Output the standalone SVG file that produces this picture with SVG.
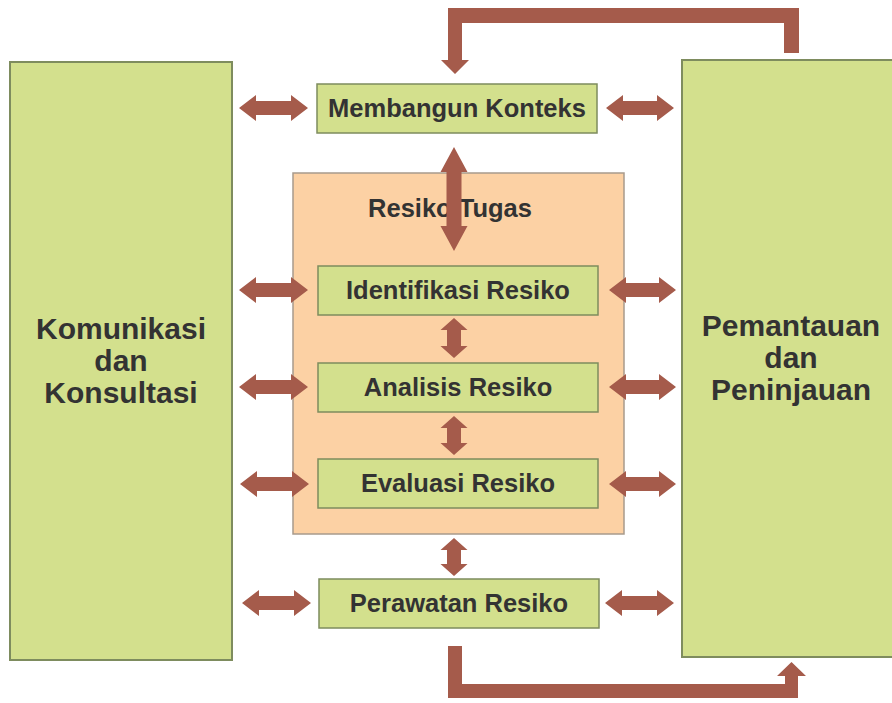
<svg xmlns="http://www.w3.org/2000/svg" width="892" height="703" viewBox="0 0 892 703">
<style>
.big{fill:#d3e08d;stroke:#7e8c5e;stroke-width:2}
.box{fill:#d3e08d;stroke:#7e8c5e;stroke-width:1.5}
.task{fill:#fcd1a4;stroke:#a89a8c;stroke-width:1.5}
.arr{fill:#a55b4b;stroke:none}
text{font-family:"Liberation Sans",Arial,sans-serif;font-weight:bold;fill:#333333;text-anchor:middle}
.t1{font-size:30px}
.t2{font-size:25.5px}
</style>
<rect width="892" height="703" fill="#ffffff"/>
<g id="komunikasi">
<rect class="big" x="10" y="62" width="222" height="598"/>
<text class="t1" x="121" y="339">Komunikasi</text>
<text class="t1" x="121" y="371">dan</text>
<text class="t1" x="121" y="403">Konsultasi</text>
</g>
<g id="pemantauan">
<rect class="big" x="682" y="60" width="220" height="597"/>
<text class="t1" x="791" y="336">Pemantauan</text>
<text class="t1" x="791" y="368">dan</text>
<text class="t1" x="791" y="400">Peninjauan</text>
</g>
<g id="resiko-tugas">
<rect class="task" x="293" y="173" width="331" height="361"/>
<text class="t2" x="450" y="217">Resiko Tugas</text>
</g>
<g id="membangun">
<rect class="box" x="317" y="84" width="280" height="49"/>
<text class="t2" x="457" y="117">Membangun Konteks</text>
</g>
<g id="identifikasi">
<rect class="box" x="318" y="266" width="280" height="49"/>
<text class="t2" x="458" y="299">Identifikasi Resiko</text>
</g>
<g id="analisis">
<rect class="box" x="318" y="363" width="280" height="49"/>
<text class="t2" x="458" y="396">Analisis Resiko</text>
</g>
<g id="evaluasi">
<rect class="box" x="318" y="459" width="280" height="49"/>
<text class="t2" x="458" y="492">Evaluasi Resiko</text>
</g>
<g id="perawatan">
<rect class="box" x="319" y="579" width="280" height="49"/>
<text class="t2" x="459" y="612">Perawatan Resiko</text>
</g>
<g id="connectors">
<path class="arr" d="M239,108 l17,-13 v6 h35 v-6 l17,13 l-17,13 v-6 h-35 v6 z"/>
<path class="arr" d="M239,290 l17,-13 v6 h35 v-6 l17,13 l-17,13 v-6 h-35 v6 z"/>
<path class="arr" d="M239,387 l17,-13 v6 h35 v-6 l17,13 l-17,13 v-6 h-35 v6 z"/>
<path class="arr" d="M240,484 l17,-13 v6 h35 v-6 l17,13 l-17,13 v-6 h-35 v6 z"/>
<path class="arr" d="M242,603 l17,-13 v6 h35 v-6 l17,13 l-17,13 v-6 h-35 v6 z"/>
<path class="arr" d="M606,108 l17,-13 v6 h34 v-6 l17,13 l-17,13 v-6 h-34 v6 z"/>
<path class="arr" d="M609,290 l17,-13 v6 h33 v-6 l17,13 l-17,13 v-6 h-33 v6 z"/>
<path class="arr" d="M609,387 l17,-13 v6 h33 v-6 l17,13 l-17,13 v-6 h-33 v6 z"/>
<path class="arr" d="M609,484 l17,-13 v6 h33 v-6 l17,13 l-17,13 v-6 h-33 v6 z"/>
<path class="arr" d="M605,603 l17,-13 v6 h35 v-6 l17,13 l-17,13 v-6 h-35 v6 z"/>
<path class="arr" d="M454,147 l13.5,25 h-6 v54 h6 l-13.5,25 l-13.5,-25 h6 v-54 h-6 z"/>
<path class="arr" d="M454,318 l13.5,12 h-6.5 v16 h6.5 l-13.5,12 l-13.5,-12 h6.5 v-16 h-6.5 z"/>
<path class="arr" d="M454,416 l13.5,12 h-6.5 v15 h6.5 l-13.5,12 l-13.5,-12 h6.5 v-15 h-6.5 z"/>
<path class="arr" d="M454,538 l13.5,12 h-6.5 v14 h6.5 l-13.5,12 l-13.5,-12 h6.5 v-14 h-6.5 z"/>
<path class="arr" d="M799,53 h-15 v-30 h-322 v37 h7 l-14,14 l-14,-14 h7 v-52 h351 z"/>
<path class="arr" d="M448,646 h14 v38 h323 v-8 h-8 l14.5,-14 l14.5,14 h-8 v22 h-350 z"/>
</g>
</svg>
